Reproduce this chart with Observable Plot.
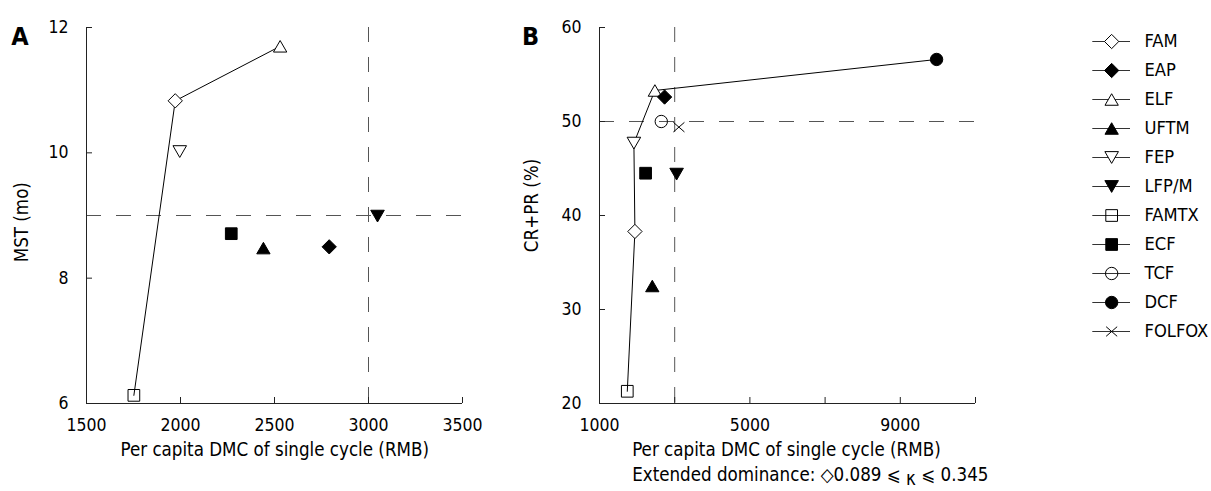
<!DOCTYPE html>
<html>
<head>
<meta charset="utf-8">
<script src="https://cdn.jsdelivr.net/npm/d3@7"></script>
<script src="https://cdn.jsdelivr.net/npm/@observablehq/plot@0.6"></script>
<style>
  body { margin: 0; background: #fff; }
  #wrap { position: relative; width: 1211px; height: 491px; overflow: hidden; background: #fff; }
  #wrap svg { position: absolute; top: 0; }
</style>
</head>
<body>
<div id="wrap"></div>
<script>
// ---------- data ----------
const regimens = ["FAM", "EAP", "ELF", "UFTM", "FEP", "LFP/M", "FAMTX", "ECF", "TCF", "DCF", "FOLFOX"];
const symbolKinds = ["diamond", "diamond", "triangleUp", "triangleUp", "triangleDown", "triangleDown", "square", "square", "circle", "circle", "times"];
const filledFlags = [false, true, false, true, false, true, false, true, false, true, false];

// Panel A: per capita DMC (RMB) vs MST (months)
const regimensA = ["FAM", "EAP", "ELF", "UFTM", "FEP", "LFP/M", "FAMTX", "ECF"];
const costA = [1972, 2791, 2530, 2441, 1996, 3048, 1752, 2270];
const mstA = [10.83, 8.50, 11.70, 8.48, 10.02, 8.99, 6.13, 8.71];
const frontierA = ["FAMTX", "FAM", "ELF"];

// Panel B: per capita DMC (RMB) vs CR+PR (%)
const regimensB = ["FAM", "EAP", "ELF", "UFTM", "FEP", "LFP/M", "FAMTX", "ECF", "TCF", "DCF", "FOLFOX"];
const costB = [1942, 2731, 2473, 2404, 1915, 3051, 1739, 2226, 2643, 9965, 3112];
const responseB = [38.3, 52.6, 53.3, 32.5, 47.7, 44.4, 21.3, 44.5, 50.0, 56.6, 49.4];
const frontierB = ["FAMTX", "FAM", "FEP", "ELF", "DCF"];

const xDomainA = [1500, 3500];
const yDomainA = [6, 12];
const xTicksA = [1500, 2000, 2500, 3000, 3500];
const yTicksA = [6, 8, 10, 12];
const thresholdA = { x: 3000, y: 9 };

const xDomainB = [1000, 11000];
const yDomainB = [20, 60];
const xTicksB = [1000, 3000, 5000, 7000, 9000, 11000];
const xLabelsB = [1000, 5000, 9000];
const yTicksB = [20, 30, 40, 50, 60];
const thresholdB = { x: 3000, y: 50 };

const xTitle = "Per capita DMC of single cycle (RMB)";
const yTitleA = "MST (mo)";
const yTitleB = "CR+PR (%)";
const caption = "Extended dominance: \u25C70.089 \u2A7D \u03BA \u2A7D 0.345";

// ---------- styling ----------
const FONT = "'DejaVu Sans Condensed', 'DejaVu Sans', sans-serif";
const baseStyle = { fontFamily: FONT, fontStretch: "condensed", fontSize: "17.5px", color: "#000", background: "transparent", overflow: "visible" };
const TITLE_SIZE = 18.6;

function makeSymbol(kind) {
  return {
    draw(ctx, size) {
      const s = Math.sqrt(size / Math.PI);
      if (kind === "square") {
        const h = 0.975 * s;
        ctx.moveTo(-h, -h); ctx.lineTo(h, -h); ctx.lineTo(h, h); ctx.lineTo(-h, h); ctx.closePath();
      } else if (kind === "diamond") {
        const h = 1.19 * s;
        ctx.moveTo(0, -h); ctx.lineTo(h, 0); ctx.lineTo(0, h); ctx.lineTo(-h, 0); ctx.closePath();
      } else if (kind === "triangleUp") {
        const w = 1.11 * s, h = 0.96 * s;
        ctx.moveTo(0, -h); ctx.lineTo(w, h); ctx.lineTo(-w, h); ctx.closePath();
      } else if (kind === "triangleDown") {
        const w = 1.13 * s, h = 0.98 * s;
        ctx.moveTo(0, h); ctx.lineTo(w, -h); ctx.lineTo(-w, -h); ctx.closePath();
      } else if (kind === "circle") {
        const r = 1.03 * s;
        ctx.moveTo(r, 0); ctx.arc(0, 0, r, 0, 2 * Math.PI);
      } else if (kind === "times") {
        const w = 0.92 * s, h = 0.8 * s;
        ctx.moveTo(-w, -h); ctx.lineTo(w, h); ctx.moveTo(w, -h); ctx.lineTo(-w, h);
      }
    }
  };
}
const symbolScale = { domain: regimens, range: regimens.map((n, i) => makeSymbol(symbolKinds[i])) };
function fillGroup(name) {
  const i = regimens.indexOf(name);
  if (filledFlags[i]) return "black";
  const k = symbolKinds[i];
  return (k === "square" || k === "circle" || k === "times") ? "none" : "white";
}
function dotMarks(rows, xKey, yKey) {
  return ["none", "white", "black"].map(f => Plot.dot(rows, {
    filter: d => fillGroup(d.name) === f,
    x: xKey, y: yKey, symbol: "name", r: 6,
    fill: f, stroke: "black", strokeWidth: 1
  }));
}
const fmt = d => String(d);

const wrap = document.getElementById("wrap");

// ---------- Panel A ----------
const rowsA = regimensA.map((name, i) => ({ name, cost: costA[i], value: mstA[i] }));
const lineA = frontierA.map(n => rowsA.find(r => r.name === n));
const plotA = Plot.plot({
  width: 490, height: 491,
  marginLeft: 86, marginRight: 28, marginTop: 27, marginBottom: 88,
  x: { domain: xDomainA },
  y: { domain: yDomainA },
  symbol: symbolScale,
  style: baseStyle,
  marks: [
    Plot.ruleY([thresholdA.y], { stroke: "#555", strokeDasharray: "15,15" }),
    Plot.ruleX([thresholdA.x], { stroke: "#555", strokeDasharray: "15,15" }),
    Plot.ruleX([xDomainA[0]], { stroke: "#222" }),
    Plot.ruleY([yDomainA[0]], { stroke: "#222" }),
    Plot.tickX(xTicksA, { x: d => d, insetTop: 370, stroke: "#222" }),
    Plot.tickY(yTicksA, { y: d => d, insetRight: 370, stroke: "#222" }),
    Plot.axisX(xTicksA, { tickSize: 0, tickPadding: 15, label: null, tickFormat: fmt }),
    Plot.axisY(yTicksA, { tickSize: 0, tickPadding: 18, label: null, tickFormat: fmt }),
    Plot.line(lineA, { x: "cost", y: "value", stroke: "black", strokeWidth: 1 }),
    ...dotMarks(rowsA, "cost", "value"),
    Plot.text([xTitle], { text: d => d, frameAnchor: "bottom-left", textAnchor: "start", dx: 34, dy: 52, fontSize: TITLE_SIZE }),
    Plot.text([yTitleA], { text: d => d, frameAnchor: "left", textAnchor: "middle", rotate: -90, dx: -64, dy: 6.7, fontSize: TITLE_SIZE }),
    Plot.text(["A"], { text: d => d, frameAnchor: "top-left", textAnchor: "middle", dx: -66.5, dy: -0.5, fontWeight: "bold", fontSize: 25 })
  ]
});
plotA.style.left = "0px";
wrap.appendChild(plotA);

// ---------- Panel B ----------
const rowsB = regimensB.map((name, i) => ({ name, cost: costB[i], value: responseB[i] }));
const lineB = frontierB.map(n => rowsB.find(r => r.name === n));
const plotB = Plot.plot({
  width: 500, height: 491,
  marginLeft: 99, marginRight: 25, marginTop: 27, marginBottom: 88,
  x: { domain: xDomainB },
  y: { domain: yDomainB },
  symbol: symbolScale,
  style: baseStyle,
  marks: [
    Plot.ruleY([thresholdB.y], { stroke: "#555", strokeDasharray: "15,15" }),
    Plot.ruleX([thresholdB.x], { stroke: "#555", strokeDasharray: "15,15" }),
    Plot.ruleX([xDomainB[0]], { stroke: "#222" }),
    Plot.ruleY([yDomainB[0]], { stroke: "#222" }),
    Plot.tickX(xTicksB, { x: d => d, insetTop: 370, stroke: "#222" }),
    Plot.tickY(yTicksB, { y: d => d, insetRight: 370, stroke: "#222" }),
    Plot.axisX(xLabelsB, { tickSize: 0, tickPadding: 15, label: null, tickFormat: fmt }),
    Plot.axisY(yTicksB, { tickSize: 0, tickPadding: 18, label: null, tickFormat: fmt }),
    Plot.line(lineB, { x: "cost", y: "value", stroke: "black", strokeWidth: 1 }),
    ...dotMarks(rowsB, "cost", "value"),
    Plot.text([xTitle], { text: d => d, frameAnchor: "bottom-left", textAnchor: "start", dx: 32.7, dy: 52.7, fontSize: TITLE_SIZE }),
    Plot.text([caption], { text: d => d, frameAnchor: "bottom-left", textAnchor: "start", dx: 32.7, dy: 77, fontSize: TITLE_SIZE }),
    Plot.text([yTitleB], { text: d => d, frameAnchor: "left", textAnchor: "middle", rotate: -90, dx: -67, dy: -10, fontSize: TITLE_SIZE }),
    Plot.text(["B"], { text: d => d, frameAnchor: "top-left", textAnchor: "middle", dx: -69, dy: -0.5, fontWeight: "bold", fontSize: 25 })
  ]
});
plotB.style.left = "500px";
wrap.appendChild(plotB);

// subscript-like kappa in the caption
(function () {
  const t = [...plotB.querySelectorAll("text")].find(e => e.textContent.includes("\u03BA"));
  if (!t) return;
  const [before, after] = t.textContent.split("\u03BA");
  t.textContent = "";
  const ns = "http://www.w3.org/2000/svg";
  const a = document.createElementNS(ns, "tspan"); a.textContent = before;
  const k = document.createElementNS(ns, "tspan"); k.textContent = "\u03BA"; k.setAttribute("dy", "4");
  const b = document.createElementNS(ns, "tspan"); b.textContent = after; b.setAttribute("dy", "-4");
  t.append(a, k, b);
})();

// ---------- Legend ----------
const legend = Plot.plot({
  width: 211, height: 491,
  margin: 0,
  x: { domain: [0, 1], range: [92.3, 130], axis: null },
  y: { type: "point", domain: regimens, range: [25, 346], axis: null },
  symbol: symbolScale,
  style: baseStyle,
  marks: [
    Plot.ruleY(regimens, { y: d => d, x1: 0, x2: 1, stroke: "#333" }),
    ...["none", "white", "black"].map(f => Plot.dot(regimens, {
      filter: d => fillGroup(d) === f,
      x: () => 0.5, y: d => d, symbol: d => d, r: 6, fill: f, stroke: "black", strokeWidth: 1
    })),
    Plot.text(regimens, { x: () => 1, y: d => d, text: d => d, dx: 14, textAnchor: "start", fontSize: 18.2 })
  ]
});
legend.style.left = "1000px";
wrap.appendChild(legend);
</script>
</body>
</html>
